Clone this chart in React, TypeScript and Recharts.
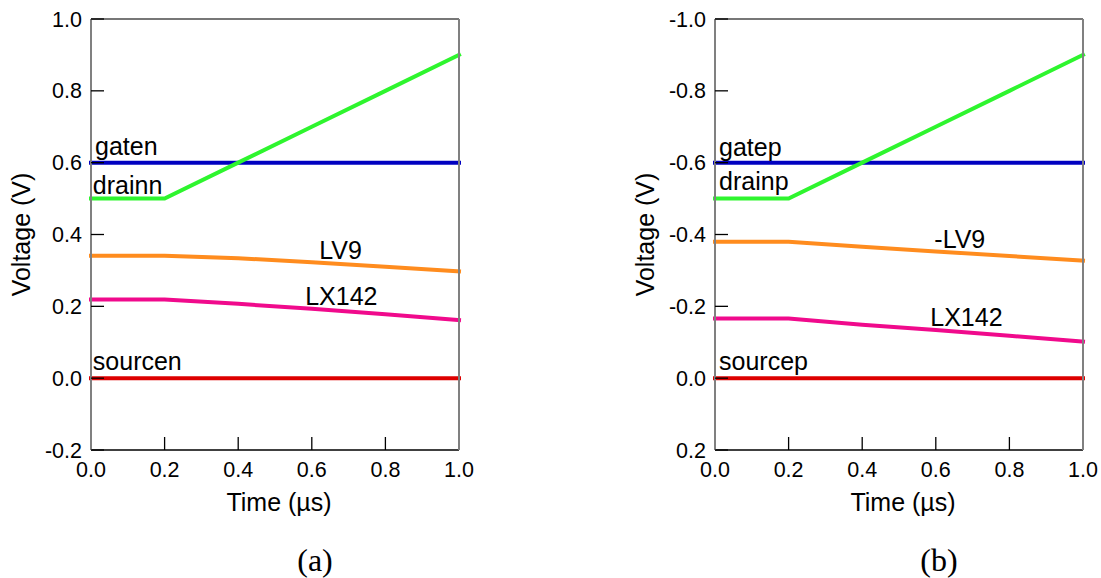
import React from "react";
import { LineChart, Line, XAxis, YAxis, ReferenceDot, Label } from "recharts";

// time axis (µs)
const time = [0, 0.2, 0.4, 0.6, 0.8, 1.0];

// panel (a): n-type device
const gaten = [0.6, 0.6, 0.6, 0.6, 0.6, 0.6];
const drainn = [0.5, 0.5, 0.6, 0.7, 0.8, 0.9];
const lv9n = [0.341, 0.341, 0.334, 0.323, 0.31, 0.297];
const lx142n = [0.219, 0.219, 0.207, 0.193, 0.178, 0.162];
const sourcen = [0, 0, 0, 0, 0, 0];

// panel (b): p-type device
const gatep = [-0.6, -0.6, -0.6, -0.6, -0.6, -0.6];
const drainp = [-0.5, -0.5, -0.6, -0.7, -0.8, -0.9];
const lv9p = [-0.38, -0.38, -0.366, -0.353, -0.34, -0.327];
const lx142p = [-0.166, -0.166, -0.149, -0.134, -0.118, -0.102];
const sourcep = [0, 0, 0, 0, 0, 0];

const xTicks = [0, 0.2, 0.4, 0.6, 0.8, 1.0];
const yTicksN = [-0.2, 0, 0.2, 0.4, 0.6, 0.8, 1.0];
const yTicksP = [-1.0, -0.8, -0.6, -0.4, -0.2, 0, 0.2];

const seriesKeys = ["gate", "drain", "lv9", "lx142", "source"];
const seriesColors = ["#0000c0", "#2ef52e", "#ff8c1e", "#f00a8c", "#dd0000"];

// label text and its anchor in data units [time, voltage]
const labelsN: [string, number, number][] = [
  ["gaten", 0.011, 0.621],
  ["drainn", 0.005, 0.513],
  ["LV9", 0.62, 0.332],
  ["LX142", 0.582, 0.204],
  ["sourcen", 0.005, 0.023],
];
const labelsP: [string, number, number][] = [
  ["gatep", 0.011, -0.619],
  ["drainp", 0.011, -0.524],
  ["-LV9", 0.596, -0.362],
  ["LX142", 0.585, -0.145],
  ["sourcep", 0.011, -0.023],
];

const FONT = "Arial, 'Liberation Sans', Helvetica, sans-serif";
const TICK_LEN = 13;

const rows = (series: number[][]) =>
  time.map((t, i) => {
    const row: Record<string, number> = { t };
    seriesKeys.forEach((k, j) => (row[k] = series[j][i]));
    return row;
  });

const dataN = rows([gaten, drainn, lv9n, lx142n, sourcen]);
const dataP = rows([gatep, drainp, lv9p, lx142p, sourcep]);

const fmt = (v: number) => (Math.abs(v) < 1e-9 ? "0.0" : v.toFixed(1));

// tick labels only; the inward tick marks come from negative tickSize
function BottomTick({ x, y, payload }: any) {
  return (
    <text x={x} y={y + 27} textAnchor="middle" fontSize={21.5} fontFamily={FONT} fill="#000">
      {fmt(payload.value)}
    </text>
  );
}

function LeftTick({ x, y, payload }: any) {
  return (
    <text x={x - 9} y={y + 7.5} textAnchor="end" fontSize={21.5} fontFamily={FONT} fill="#000">
      {fmt(payload.value)}
    </text>
  );
}

const tag = (text: string) => (p: any) => (
  <text x={p.cx} y={p.cy} fontSize={25} fontFamily={FONT} fill="#000">
    {text}
  </text>
);

interface PanelProps {
  data: Record<string, number>[];
  yTicks: number[];
  reversed?: boolean;
  labels: [string, number, number][];
  caption: string;
  width: number;
  rightWidth: number;
}

function Panel({ data, yTicks, reversed, labels, caption, width, rightWidth }: PanelProps) {
  const domain = [yTicks[0], yTicks[yTicks.length - 1]];
  const tickLine = { stroke: "#000", strokeWidth: 1.3 };
  return (
    <LineChart width={width} height={578} data={data} margin={{ top: 0, right: 0, bottom: 0, left: 0 }}>
      <XAxis
        xAxisId="top"
        orientation="top"
        type="number"
        dataKey="t"
        domain={[0, 1]}
        ticks={xTicks}
        interval={0}
        height={19}
        tickSize={-TICK_LEN}
        tick={false}
        tickLine={{ stroke: "#333", strokeWidth: 1.3 }}
        axisLine={{ stroke: "#777", strokeWidth: 2 }}
      />
      <XAxis
        xAxisId="bottom"
        orientation="bottom"
        type="number"
        dataKey="t"
        domain={[0, 1]}
        ticks={xTicks}
        interval={0}
        height={128}
        tickSize={-TICK_LEN}
        tickMargin={TICK_LEN}
        tickLine={tickLine}
        tick={<BottomTick />}
        axisLine={{ stroke: "#000", strokeWidth: 1.5 }}
      >
        <Label
          content={(p: any) => {
            const cx = p.viewBox.x + p.viewBox.width / 2;
            return (
              <g>
                <text x={cx + 4} y={p.viewBox.y + 61} textAnchor="middle" fontSize={25} fontFamily={FONT} fill="#000">
                  Time (µs)
                </text>
                <text x={cx + 40} y={p.viewBox.y + 121} textAnchor="middle" fontSize={32} fontFamily="'Times New Roman', 'Liberation Serif', serif" fill="#000">
                  {caption}
                </text>
              </g>
            );
          }}
        />
      </XAxis>
      <YAxis
        yAxisId="left"
        orientation="left"
        type="number"
        domain={domain}
        ticks={yTicks}
        interval={0}
        reversed={reversed}
        allowDataOverflow
        width={91}
        tickSize={-TICK_LEN}
        tickMargin={TICK_LEN}
        tickLine={tickLine}
        tick={<LeftTick />}
        axisLine={{ stroke: "#808080", strokeWidth: 2 }}
      >
        <Label
          content={(p: any) => {
            const cy = p.viewBox.y + p.viewBox.height / 2;
            const x = p.viewBox.x + 30;
            return (
              <text x={x} y={cy} transform={`rotate(-90, ${x}, ${cy})`} textAnchor="middle" fontSize={25} fontFamily={FONT} fill="#000">
                Voltage (V)
              </text>
            );
          }}
        />
      </YAxis>
      <YAxis
        yAxisId="right"
        orientation="right"
        type="number"
        domain={domain}
        ticks={yTicks}
        interval={0}
        reversed={reversed}
        allowDataOverflow
        width={rightWidth}
        tickSize={-TICK_LEN}
        tick={false}
        tickLine={tickLine}
        axisLine={{ stroke: "#808080", strokeWidth: 2 }}
      />
      {seriesKeys.map((k, i) => (
        <Line
          key={k}
          xAxisId="bottom"
          yAxisId="left"
          type="linear"
          dataKey={k}
          stroke={seriesColors[i]}
          strokeWidth={4}
          strokeLinecap="square"
          dot={false}
          activeDot={false}
          isAnimationActive={false}
        />
      ))}
      {labels.map(([text, x, y]) => (
        <ReferenceDot key={text} xAxisId="bottom" yAxisId="left" x={x} y={y} r={0} shape={tag(text)} />
      ))}
    </LineChart>
  );
}

export default function App() {
  return (
    <div style={{ position: "absolute", left: 0, top: 0, width: 1101, height: 578, background: "#fff", overflow: "hidden" }}>
      <div style={{ position: "absolute", left: 0, top: 0 }}>
        <Panel data={dataN} yTicks={yTicksN} labels={labelsN} caption="(a)" width={550} rightWidth={91} />
      </div>
      <div style={{ position: "absolute", left: 624, top: 0 }}>
        <Panel data={dataP} yTicks={yTicksP} reversed labels={labelsP} caption="(b)" width={477} rightWidth={18} />
      </div>
    </div>
  );
}
